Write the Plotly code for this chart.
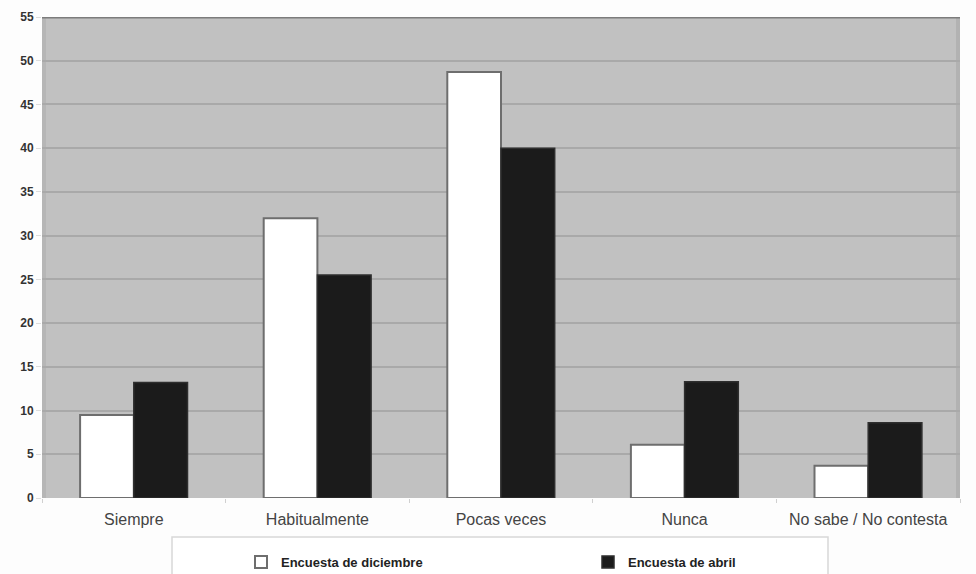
import plotly.graph_objects as go

# Survey responses (%) by frequency category
categorias = ["Siempre", "Habitualmente", "Pocas veces", "Nunca", "No sabe / No contesta"]
diciembre = [9.5, 32.0, 48.7, 6.1, 3.7]
abril = [13.2, 25.5, 40.0, 13.3, 8.6]
y_ticks = list(range(0, 56, 5))

fig = go.Figure()
fig.add_trace(go.Bar(
    x=categorias, y=diciembre, name="Encuesta de diciembre",
    marker=dict(color="#ffffff", line=dict(color="#6e6e6e", width=2)),
))
fig.add_trace(go.Bar(
    x=categorias, y=abril, name="Encuesta de abril",
    marker=dict(color="#1b1b1b", line=dict(color="#2e2e2e", width=1.5)),
))

# Plot area spans 42..960 px horizontally and 17..498 px vertically
PL, PR, PT, PB = 42, 960, 17, 498


def px_x(p):
    return (p - PL) / (PR - PL)


def px_y(p):
    return (PB - p) / (PB - PT)


# Legend frame (wide white box below the axis labels)
fig.add_shape(type="rect", xref="paper", yref="paper",
              x0=px_x(172), x1=px_x(828), y0=px_y(600), y1=px_y(537),
              fillcolor="#ffffff", line=dict(color="#d8d8d8", width=1.5),
              layer="below")
# Top border of the plotting area
fig.add_shape(type="line", xref="paper", yref="y", x0=0, x1=1, y0=55, y1=55,
              line=dict(color="#7c7c7c", width=3))
# Slightly darker side edges of the plotting area
fig.add_shape(type="line", xref="paper", yref="y", x0=px_x(44), x1=px_x(44), y0=0, y1=55,
              line=dict(color="#b6b6b6", width=4), layer="below")
fig.add_shape(type="line", xref="paper", yref="y", x0=px_x(958), x1=px_x(958), y0=0, y1=55,
              line=dict(color="#b2b2b2", width=4), layer="below")

fig.update_layout(
    width=976, height=574,
    margin=dict(l=PL, r=976 - PR, t=PT, b=574 - PB, autoexpand=False),
    paper_bgcolor="#fdfdfd",
    plot_bgcolor="#c1c1c1",
    barmode="group",
    bargap=0.415,
    bargroupgap=0,
    font=dict(family="Liberation Sans, Arial, sans-serif", color="#333333"),
    xaxis=dict(
        type="category",
        tickfont=dict(size=16, color="#444444"),
        ticks="outside", tickson="boundaries", ticklen=4, tickcolor="#d0d0d0",
        ticklabelstandoff=10,
        showline=False, showgrid=False, automargin=False,
    ),
    yaxis=dict(
        range=[0, 55], tickvals=y_ticks,
        tickfont=dict(size=12, color="#333333", weight="bold"),
        ticks="outside", ticklen=5, tickcolor="#dddddd",
        gridcolor="#a9a9a9", gridwidth=2,
        zeroline=False, showline=False, automargin=False,
    ),
    legend=dict(
        orientation="h", x=px_x(241), xanchor="left",
        y=px_y(547), yanchor="top",
        bgcolor="rgba(0,0,0,0)", borderwidth=0,
        entrywidth=302, entrywidthmode="pixels",
        font=dict(size=13, color="#222222", weight="bold"),
        itemwidth=30,
    ),
)

fig.write_html("out.html")
